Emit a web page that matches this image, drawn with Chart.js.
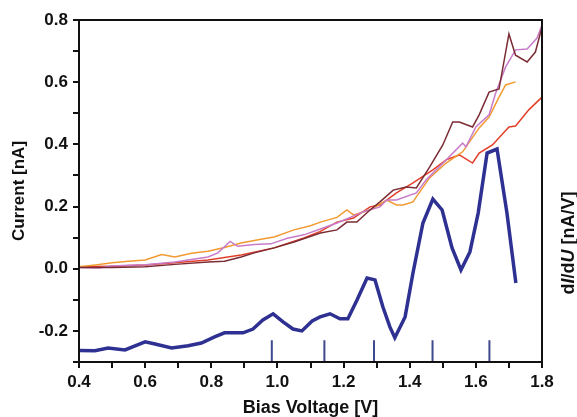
<!DOCTYPE html>
<html lang="en">
<head>
  <meta charset="UTF-8">
  <title>Current and dI/dU vs Bias Voltage</title>
  <script src="https://cdn.jsdelivr.net/npm/chart.js"></script>
  <style>
    body { margin: 0; background: #ffffff; }
    canvas { display: block; }
  </style>
</head>
<body>
  <canvas id="ivChart" width="577" height="417"></canvas>

  <script>
    // I(V) curves, [bias V, current nA]
    const maroonCurve = [
      [0.40, 0.004], [0.50, 0.004], [0.60, 0.006], [0.69, 0.014], [0.79, 0.022], [0.84, 0.024],
      [0.89, 0.038], [0.93, 0.051], [0.99, 0.067], [1.05, 0.086], [1.13, 0.115], [1.18, 0.125],
      [1.21, 0.150], [1.24, 0.150], [1.28, 0.189], [1.31, 0.215], [1.35, 0.253], [1.39, 0.263],
      [1.42, 0.260], [1.46, 0.327], [1.50, 0.398], [1.53, 0.472], [1.55, 0.472], [1.59, 0.456],
      [1.61, 0.495], [1.64, 0.568], [1.67, 0.578], [1.70, 0.755], [1.72, 0.687], [1.755, 0.665],
      [1.78, 0.697], [1.80, 0.777]
    ];
    const pinkCurve = [
      [0.40, 0.004], [0.46, 0.002], [0.50, 0.009], [0.55, 0.011], [0.60, 0.013], [0.65, 0.018],
      [0.69, 0.022], [0.74, 0.030], [0.79, 0.038], [0.82, 0.051], [0.857, 0.088], [0.88, 0.072],
      [0.93, 0.078], [0.98, 0.080], [1.03, 0.098], [1.08, 0.109], [1.13, 0.128], [1.18, 0.147],
      [1.22, 0.165], [1.26, 0.183], [1.31, 0.199], [1.33, 0.221], [1.36, 0.221], [1.42, 0.244],
      [1.45, 0.286], [1.48, 0.318], [1.51, 0.350], [1.56, 0.404], [1.57, 0.392], [1.60, 0.456],
      [1.64, 0.495], [1.66, 0.565], [1.69, 0.649], [1.72, 0.704], [1.755, 0.707], [1.785, 0.742],
      [1.80, 0.784]
    ];
    const orangeCurve = [
      [0.40, 0.006], [0.45, 0.012], [0.50, 0.019], [0.55, 0.024], [0.60, 0.028], [0.65, 0.046],
      [0.69, 0.038], [0.74, 0.050], [0.79, 0.056], [0.84, 0.068], [0.89, 0.083], [0.95, 0.095],
      [0.99, 0.102], [1.05, 0.125], [1.10, 0.138], [1.13, 0.150], [1.18, 0.165], [1.21, 0.189],
      [1.23, 0.173], [1.28, 0.189], [1.33, 0.221], [1.36, 0.205], [1.38, 0.205], [1.41, 0.215],
      [1.42, 0.231], [1.46, 0.292], [1.51, 0.340], [1.56, 0.376], [1.61, 0.453], [1.64, 0.488],
      [1.67, 0.552], [1.69, 0.591], [1.72, 0.601]
    ];
    const redCurve = [
      [0.40, 0.006], [0.50, 0.008], [0.60, 0.012], [0.69, 0.019], [0.79, 0.028], [0.89, 0.044],
      [0.99, 0.067], [1.08, 0.099], [1.13, 0.120], [1.18, 0.150], [1.23, 0.163], [1.28, 0.199],
      [1.31, 0.205], [1.36, 0.244], [1.41, 0.276], [1.47, 0.318], [1.51, 0.350], [1.55, 0.366],
      [1.59, 0.340], [1.61, 0.372], [1.65, 0.398], [1.70, 0.456], [1.72, 0.459], [1.76, 0.511],
      [1.80, 0.552]
    ];
    // dI/dU trace (offset, plotted on the same axis)
    const didvCurve = [
      [0.40, -0.263], [0.448, -0.264], [0.488, -0.255], [0.539, -0.261], [0.60, -0.235], [0.63, -0.242],
      [0.68, -0.255], [0.73, -0.248], [0.77, -0.239], [0.81, -0.219], [0.84, -0.206], [0.87, -0.206],
      [0.896, -0.206], [0.926, -0.194], [0.956, -0.165], [0.987, -0.145], [1.017, -0.171], [1.047, -0.194],
      [1.074, -0.200], [1.105, -0.168], [1.129, -0.155], [1.159, -0.145], [1.189, -0.161], [1.213, -0.161],
      [1.241, -0.100], [1.271, -0.030], [1.295, -0.036], [1.319, -0.123], [1.340, -0.187], [1.355, -0.222],
      [1.386, -0.155], [1.41, -0.013], [1.44, 0.147], [1.47, 0.224], [1.498, 0.189], [1.528, 0.067],
      [1.555, -0.004], [1.582, 0.054], [1.607, 0.179], [1.634, 0.372], [1.664, 0.385], [1.694, 0.179],
      [1.721, -0.046]
    ];
    // peak markers along the bottom
    const markerVolts = [0.983, 1.142, 1.292, 1.469, 1.641];
    const markerBottom = -0.3;
    const markerTop = -0.23;

    const xTicksLabelled = [4, 6, 8, 10, 12, 14, 16, 18];     // tenths of a volt
    const yTicksLabelled = [-2, 0, 2, 4, 6, 8];               // tenths of a nA

    const toPoints = arr => arr.map(p => ({ x: p[0], y: p[1] }));
    const markerPoints = [];
    markerVolts.forEach(v => {
      markerPoints.push({ x: v, y: markerBottom }, { x: v, y: markerTop }, { x: v, y: null });
    });

    function line(data, color, width) {
      return {
        data: toPoints(data),
        borderColor: color,
        borderWidth: width,
        pointRadius: 0,
        tension: 0,
        fill: false
      };
    }

    // frame + right-hand title
    const framePlugin = {
      id: 'frame',
      afterDatasetsDraw(chart) {
        const { ctx, chartArea: a } = chart;
        ctx.save();
        ctx.strokeStyle = '#111';
        ctx.lineWidth = 2;
        ctx.strokeRect(a.left, a.top, a.right - a.left, a.bottom - a.top);

        const parts = [
          ['d', false], ['I', true], ['/d', false], ['U', true], [' [nA/V]', false]
        ];
        const size = 18;
        const fontOf = it => (it ? 'italic ' : '') + 'bold ' + size + 'px "Liberation Sans", Arial, sans-serif';
        let total = 0;
        parts.forEach(p => { ctx.font = fontOf(p[1]); total += ctx.measureText(p[0]).width; });
        ctx.translate(569, 243);
        ctx.rotate(-Math.PI / 2);
        ctx.fillStyle = '#111';
        ctx.textBaseline = 'middle';
        let x = -total / 2;
        parts.forEach(p => {
          ctx.font = fontOf(p[1]);
          ctx.fillText(p[0], x, 0);
          x += ctx.measureText(p[0]).width;
        });
        ctx.restore();
      }
    };

    const tickFont = { family: '"Liberation Sans", Arial, sans-serif', size: 17, weight: 'bold' };

    new Chart(document.getElementById('ivChart'), {
      type: 'line',
      data: {
        datasets: [
          line(didvCurve, '#2e3192', 3.5),
          Object.assign(line([], '#3f4a8e', 2), { data: markerPoints, spanGaps: false }),
          line(maroonCurve, '#7a2c34', 1.5),
          line(pinkCurve, '#c77bc9', 1.5),
          line(orangeCurve, '#f29a32', 1.5),
          line(redCurve, '#e23f28', 1.5)
        ]
      },
      options: {
        responsive: false,
        animation: false,
        layout: { padding: { top: 20, right: 35, left: 0, bottom: 0 } },
        plugins: {
          legend: { display: false },
          tooltip: { enabled: false }
        },
        scales: {
          x: {
            type: 'linear',
            min: 0.4,
            max: 1.8,
            afterFit: s => { s.height = 55; },
            border: { display: true, color: '#111', width: 2 },
            grid: { drawOnChartArea: false, drawTicks: true, tickLength: 6, color: '#111', lineWidth: 2 },
            ticks: {
              stepSize: 0.1,
              padding: 4,
              color: '#111',
              font: tickFont,
              maxRotation: 0,
              autoSkip: false,
              callback: v => xTicksLabelled.includes(Math.round(v * 10)) ? v.toFixed(1) : ''
            },
            title: {
              display: true,
              text: 'Bias Voltage [V]',
              color: '#111',
              font: { family: '"Liberation Sans", Arial, sans-serif', size: 18, weight: 'bold' },
              padding: { top: 0, bottom: -2 }
            }
          },
          y: {
            min: -0.3,
            max: 0.8,
            afterFit: s => { s.width = 79; },
            border: { display: true, color: '#111', width: 2 },
            grid: { drawOnChartArea: false, drawTicks: true, tickLength: 6, color: '#111', lineWidth: 2 },
            ticks: {
              stepSize: 0.1,
              padding: 5,
              color: '#111',
              font: tickFont,
              autoSkip: false,
              callback: v => yTicksLabelled.includes(Math.round(v * 10)) ? v.toFixed(1) : ''
            },
            title: {
              display: true,
              text: 'Current [nA]',
              color: '#111',
              font: { family: '"Liberation Sans", Arial, sans-serif', size: 17, weight: 'bold' },
              padding: { top: 9, bottom: 0 }
            }
          }
        }
      },
      plugins: [framePlugin]
    });
  </script>
</body>
</html>
